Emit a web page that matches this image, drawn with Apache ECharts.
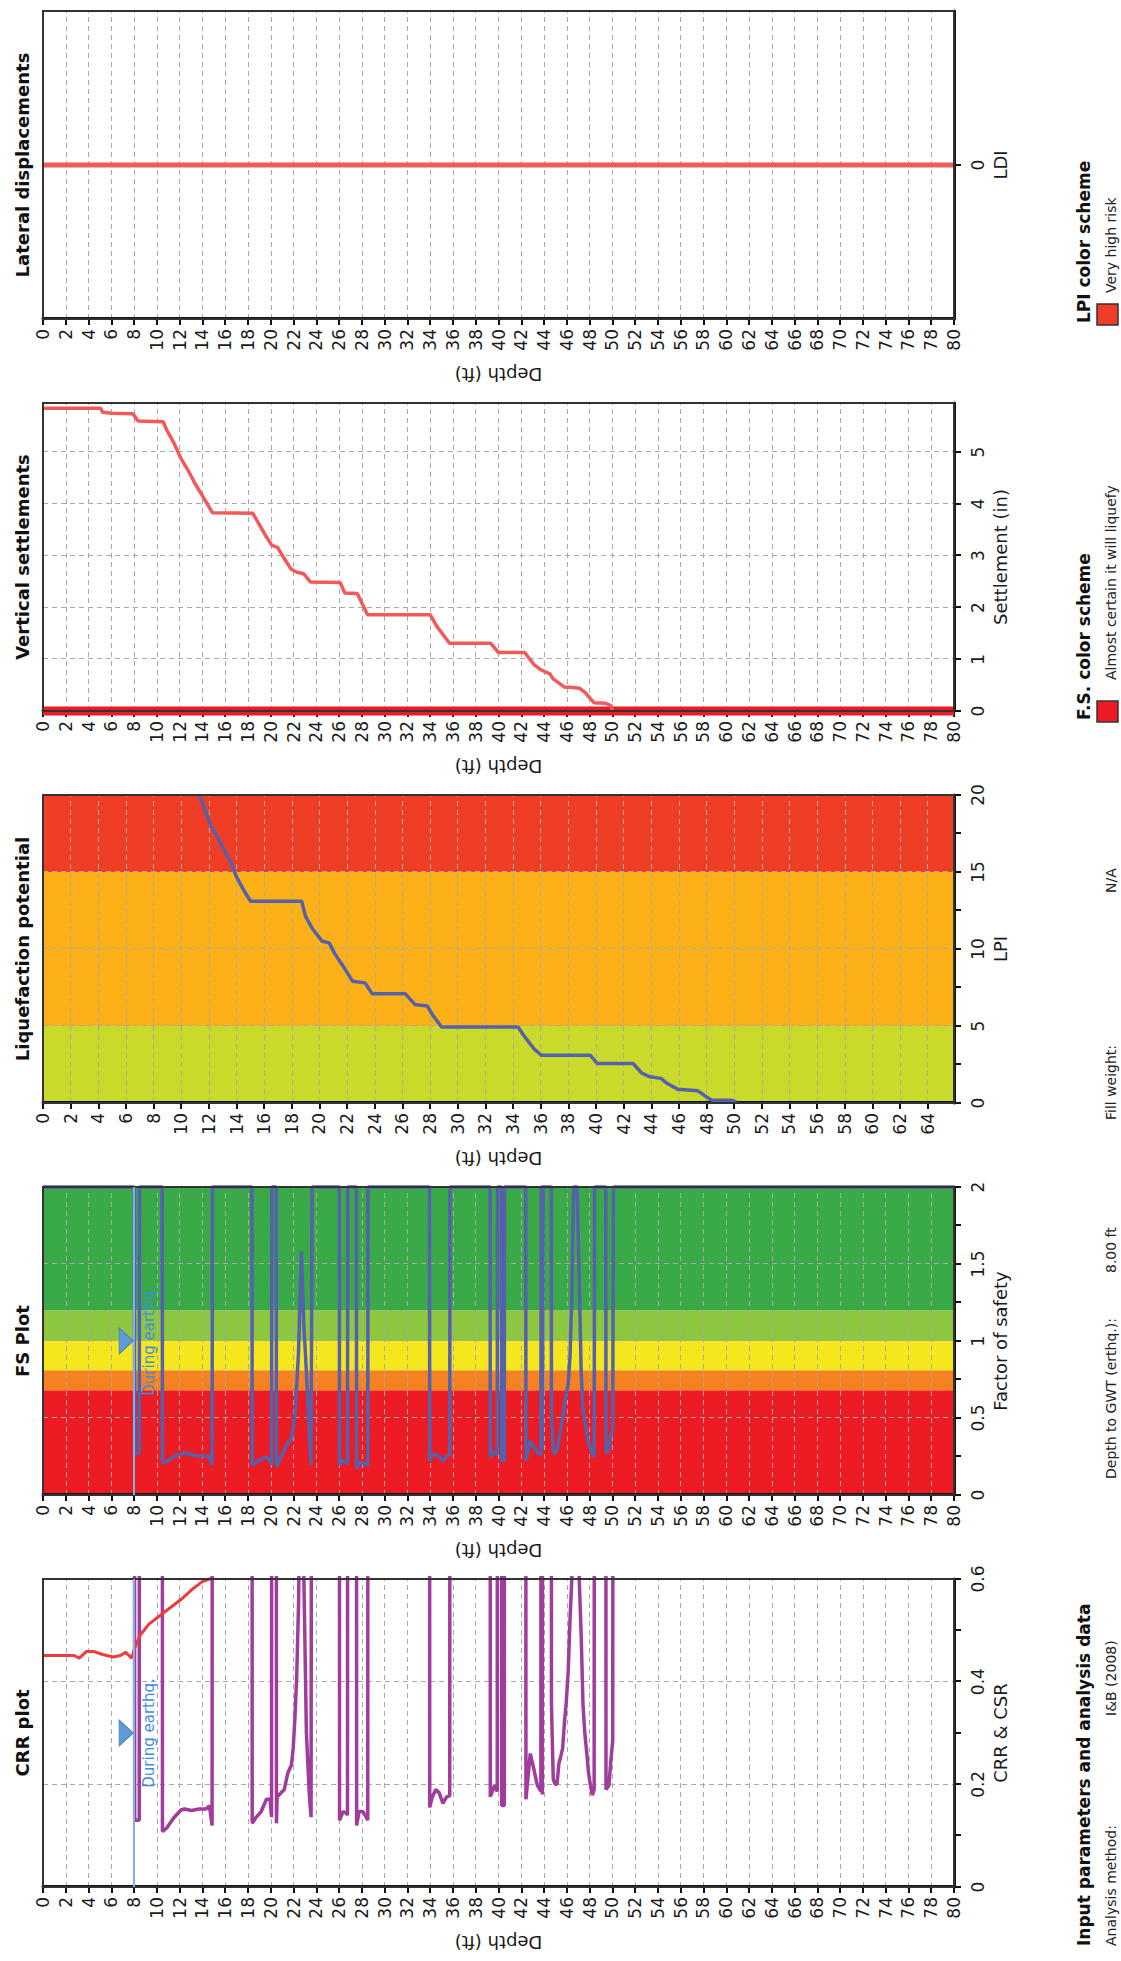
<!DOCTYPE html>
<html>
<head>
<meta charset="utf-8">
<script src="https://cdn.jsdelivr.net/npm/echarts@6/dist/echarts.min.js"></script>
<style>
html,body{margin:0;padding:0;width:1121px;height:1961px;overflow:hidden;background:#ffffff;}
#chart{position:absolute;left:0;top:0;width:1961px;height:1121px;transform-origin:0 0;transform:translate(0,1961px) rotate(-90deg);background:#fff;}
</style>
</head>
<body>
<div id="chart"></div>
<script>
// ---------------- DATA ----------------
const panelTitles = ['CRR plot', 'FS Plot', 'Liquefaction potential', 'Vertical settlements', 'Lateral displacements'];
const depthTicks = [0,2,4,6,8,10,12,14,16,18,20,22,24,26,28,30,32,34,36,38,40,42,44,46,48,50,52,54,56,58,60,62,64,66,68,70,72,74,76,78,80];
const lpiDepthTicks = [0,2,4,6,8,10,12,14,16,18,20,22,24,26,28,30,32,34,36,38,40,42,44,46,48,50,52,54,56,58,60,62,64];
const settleTicks = [0,1,2,3,4,5];
const ldiTicks = [0];

const gwtDepth = 8.0;            // Depth to GWT (earthq.), ft
const gwtMarkCRR = 0.3;          // marker position on CRR axis
const gwtMarkFS = 1.0;           // marker position on FS axis

// CRR (purple) - values of 2 are off-chart (non liquefiable)
const crrDepth = [
  8.00, 8.05, 8.45, 8.48,
  10.47, 10.49, 10.86, 11.49, 12.11, 12.43, 13.05, 13.68, 14.30, 14.62, 14.85, 14.88,
  18.35, 18.37, 18.69, 19.16, 19.62, 19.94, 20.07, 20.10,
  20.48, 20.50, 20.56, 20.88, 21.19, 21.50, 21.82, 21.97, 22.13, 22.28, 22.44, 22.69, 22.91, 23.13, 23.38, 23.54, 23.60, 23.63,
  26.02, 26.04, 26.35, 26.67, 26.74, 26.76,
  27.52, 27.54, 27.76, 28.08, 28.39, 28.52, 28.54,
  33.94, 33.96, 34.18, 34.49, 34.80, 35.12, 35.43, 35.72, 35.74,
  39.26, 39.28, 39.66, 39.89, 39.91,
  40.26, 40.28, 40.51, 40.53,
  42.39, 42.41, 42.79, 43.10, 43.41, 43.72, 43.75,
  43.82, 43.84, 43.90, 43.93,
  44.63, 44.65, 44.81, 44.98, 45.14, 45.30, 45.47, 45.63, 45.79, 45.95, 46.12, 46.28, 46.44, 46.60,
  46.90, 47.09, 47.26, 47.42, 47.58, 47.75, 47.91, 48.07, 48.24, 48.40, 48.44,
  49.42, 49.44, 49.70, 49.86, 50.03, 50.09, 80.00
];
const crrValue = [
  2, 0.130, 0.130, 2,
  2, 0.108, 0.115, 0.135, 0.150, 0.152, 0.149, 0.152, 0.152, 0.158, 0.120, 2,
  2, 0.124, 0.135, 0.147, 0.171, 0.171, 0.136, 2,
  2, 0.124, 0.175, 0.183, 0.190, 0.222, 0.238, 0.270, 0.333, 0.410, 0.550, 0.980, 0.600, 0.300, 0.183, 0.136, 0.136, 2,
  2, 0.130, 0.147, 0.143, 0.140, 2,
  2, 0.120, 0.147, 0.147, 0.136, 0.130, 2,
  2, 0.155, 0.175, 0.190, 0.183, 0.163, 0.175, 0.178, 2,
  2, 0.176, 0.198, 0.186, 2,
  2, 0.159, 0.159, 2,
  2, 0.171, 0.260, 0.230, 0.198, 0.187, 2,
  2, 0.180, 0.180, 2,
  2, 0.355, 0.210, 0.200, 0.200, 0.240, 0.255, 0.270, 0.320, 0.360, 0.420, 0.520, 0.600, 2,
  2, 0.600, 0.490, 0.355, 0.300, 0.261, 0.222, 0.198, 0.179, 0.190, 2,
  2, 0.190, 0.198, 0.245, 0.285, 2, 2
];

// CSR (red)
const csrDepth = [0, 2.72, 3.19, 3.82, 4.44, 5.23, 6.17, 6.79, 7.26, 7.79, 8.04, 8.51, 9.30, 10.23, 11.17, 12.11, 13.05, 13.99, 14.87];
const csrValue = [0.451, 0.451, 0.446, 0.459, 0.459, 0.453, 0.448, 0.451, 0.457, 0.446, 0.465, 0.490, 0.512, 0.528, 0.544, 0.560, 0.579, 0.595, 0.602];

// Factor of safety (2 = non liquefiable)
const fsDepth = [
  0, 8.02, 8.05, 8.45, 8.48,
  10.47, 10.49, 10.86, 11.49, 12.11, 12.43, 13.05, 13.68, 14.30, 14.62, 14.85, 14.88,
  18.35, 18.37, 18.69, 19.00, 19.62, 19.94, 20.07, 20.10,
  20.48, 20.50, 20.88, 21.19, 21.50, 21.82, 21.97, 22.13, 22.28, 22.44, 22.69, 22.91, 23.13, 23.38, 23.54, 23.60, 23.63,
  26.02, 26.04, 26.35, 26.67, 26.74, 26.76,
  27.52, 27.54, 27.76, 28.08, 28.39, 28.52, 28.54,
  33.94, 33.96, 34.18, 34.65, 35.12, 35.43, 35.72, 35.74,
  39.26, 39.28, 39.66, 39.89, 39.91,
  40.26, 40.28, 40.51, 40.53,
  42.39, 42.41, 42.79, 43.10, 43.41, 43.72, 43.75,
  43.82, 43.84, 43.90, 43.93,
  44.63, 44.65, 44.81, 44.98, 45.14, 45.30, 45.47, 45.63, 45.79, 45.95, 46.12, 46.28, 46.44, 46.60,
  46.90, 47.09, 47.26, 47.42, 47.58, 47.75, 47.91, 48.07, 48.24, 48.40, 48.44,
  49.42, 49.44, 49.70, 49.86, 50.03, 50.09, 80.00
];
const fsValue = [
  2, 2, 0.27, 0.27, 2,
  2, 0.21, 0.217, 0.25, 0.266, 0.274, 0.261, 0.253, 0.253, 0.248, 0.196, 2,
  2, 0.196, 0.21, 0.227, 0.248, 0.222, 0.196, 2,
  2, 0.183, 0.248, 0.287, 0.339, 0.365, 0.43, 0.535, 0.715, 0.927, 1.58, 1.1, 0.8, 0.405, 0.196, 0.196, 2,
  2, 0.196, 0.222, 0.209, 0.2, 2,
  2, 0.17, 0.209, 0.209, 0.196, 0.19, 2,
  2, 0.222, 0.261, 0.261, 0.222, 0.248, 0.261, 2,
  2, 0.248, 0.287, 0.261, 2,
  2, 0.222, 0.222, 2,
  2, 0.222, 0.352, 0.313, 0.274, 0.261, 2,
  2, 0.3, 0.3, 2,
  2, 0.5, 0.28, 0.27, 0.3, 0.36, 0.43, 0.5, 0.59, 0.66, 0.72, 0.9, 1.3, 2,
  2, 1.4, 0.8, 0.56, 0.48, 0.4, 0.34, 0.3, 0.27, 0.25, 2,
  2, 0.27, 0.3, 0.38, 0.42, 2, 2
];

// FS colour bands
const fsBandStart = [0, 0.68, 0.81, 1.0, 1.2];
const fsBandEnd   = [0.68, 0.81, 1.0, 1.2, 2.0];
const fsBandColor = ['#ED1C24', '#F58220', '#F4E71D', '#8DC63F', '#3AA948'];

// LPI
const lpiDepth = [11.33, 12.05, 12.83, 13.60, 13.99, 14.63, 15.02, 18.71, 19.00, 19.50, 20.20, 20.70, 21.10, 21.70, 22.40, 23.30, 23.80, 26.20, 26.90, 27.80, 28.20, 28.83, 34.37, 34.76, 35.54, 36.05, 39.60, 40.10, 42.70, 43.30, 43.90, 44.70, 45.10, 45.90, 47.35, 48.15, 48.40, 49.75, 50.20];
const lpiValue = [20.0, 18.2, 16.9, 15.6, 14.7, 13.65, 13.1, 13.1, 12.1, 11.3, 10.5, 10.4, 9.7, 8.9, 7.9, 7.8, 7.1, 7.1, 6.4, 6.3, 5.7, 4.93, 4.93, 4.4, 3.5, 3.1, 3.1, 2.56, 2.56, 1.95, 1.7, 1.6, 1.3, 0.9, 0.8, 0.3, 0.18, 0.18, 0.05];
const lpiBandStart = [0, 5, 15];
const lpiBandEnd   = [5, 15, 20];
const lpiBandColor = ['#C9DA2A', '#FBB117', '#EF3E25'];

// Vertical settlements (in)
const setDepth = [0, 5.07, 5.23, 6.00, 7.90, 8.36, 10.55, 10.86, 11.49, 12.11, 12.74, 13.36, 13.99, 14.62, 14.87, 18.43, 19.00, 19.60, 20.10, 20.60, 21.20, 21.80, 22.30, 22.90, 23.50, 26.10, 26.50, 27.60, 28.50, 34.00, 34.60, 35.70, 39.30, 40.00, 42.30, 43.10, 43.70, 44.50, 44.80, 45.80, 46.30, 47.10, 47.60, 48.10, 48.40, 49.40, 49.90, 50.00];
const setValue = [5.85, 5.85, 5.77, 5.75, 5.74, 5.60, 5.59, 5.43, 5.18, 4.88, 4.65, 4.39, 4.16, 3.93, 3.83, 3.82, 3.60, 3.37, 3.20, 3.16, 2.94, 2.74, 2.68, 2.65, 2.49, 2.48, 2.28, 2.27, 1.86, 1.86, 1.63, 1.31, 1.31, 1.13, 1.13, 0.90, 0.80, 0.72, 0.62, 0.46, 0.46, 0.44, 0.36, 0.23, 0.16, 0.15, 0.10, 0.00];
const setBaseDepth = [0, 80];
const setBaseValue = [0, 0];

// Lateral displacements
const ldiDepth = [0, 80];
const ldiValue = [0, 0];

// ---------------- CHART ----------------
const FONT = 'DejaVu Sans';
const TXT = '#1a1a1a';
const panelLeft = [74, 466, 858, 1250, 1642];
const PW = 308, PT = 43, PH = 911;
const depthMax = [80, 80, 65.9, 80, 80];

const pair = (xs, ys) => xs.map((x, i) => [x, ys[i]]);
const gridLine = {show: true, lineStyle: {color: '#a9a9a9', width: 1, type: [5, 4]}};
const tickStyle = {color: '#111', width: 2};

function depthAxis(i) {
  const ticks = depthMax[i] === 80 ? depthTicks : lpiDepthTicks;
  return {
    type: 'value', gridIndex: i, inverse: true, min: 0, max: depthMax[i], interval: 2,
    position: 'left', z: 2,
    name: 'Depth (ft)', nameLocation: 'middle', nameGap: 46, nameRotate: 90,
    nameTextStyle: {fontFamily: FONT, fontSize: 18, color: TXT},
    axisLine: {show: true, onZero: false, lineStyle: {color: '#111', width: 3}},
    axisTick: {show: true, length: 6, lineStyle: tickStyle, customValues: ticks},
    axisLabel: {margin: 10, fontFamily: FONT, fontSize: 17, color: TXT, hideOverlap: false, customValues: ticks,
      formatter: v => (ticks.indexOf(v) >= 0 ? String(v) : '')},
    splitLine: gridLine
  };
}
function valAxis(i, o) {
  return Object.assign({
    type: 'value', gridIndex: i, position: 'bottom', z: 2,
    nameLocation: 'middle', nameGap: 37,
    nameTextStyle: {fontFamily: FONT, fontSize: 18, color: TXT},
    axisLine: {show: true, onZero: false, lineStyle: {color: '#111', width: 3}},
    axisTick: {show: true, length: 7, lineStyle: tickStyle},
    axisLabel: {margin: 15, fontFamily: FONT, fontSize: 17, color: TXT, hideOverlap: false},
    splitLine: gridLine
  }, o);
}
const minor = {show: true, splitNumber: 2, length: 7, lineStyle: tickStyle};

function bandSeries(i, starts, ends, colors) {
  const dmax = depthMax[i];
  return {
    type: 'custom', xAxisIndex: i, yAxisIndex: i, z: 1, silent: true, clip: true,
    encode: {x: [0, 1]},
    data: starts.map((s, k) => ({value: [s, ends[k]], itemStyle: {color: colors[k]}})),
    renderItem: (params, api) => {
      const p0 = api.coord([api.value(0), 0]);
      const p1 = api.coord([api.value(1), dmax]);
      return {type: 'rect', shape: {x: p0[0], y: p0[1], width: p1[0] - p0[0], height: p1[1] - p0[1]},
        style: {fill: api.visual('color')}};
    }
  };
}
const gwtLine = {
  silent: true, symbol: ['none', 'none'], label: {show: false},
  lineStyle: {color: '#7fb2e5', width: 2, type: 'solid'},
  data: [{yAxis: gwtDepth}]
};
function gwtTriangle(i, v) {
  return {type: 'scatter', xAxisIndex: i, yAxisIndex: i, z: 6, silent: true,
    data: [[v, gwtDepth - 0.7]], symbol: 'triangle', symbolRotate: 180, symbolSize: [26, 14],
    itemStyle: {color: '#5d9ad6', borderColor: '#3f7fc0', borderWidth: 1, opacity: 1}};
}
function gwtText(i, v) {
  return {type: 'scatter', xAxisIndex: i, yAxisIndex: i, z: 6, silent: true,
    data: [[v, gwtDepth + 1.3]], symbol: 'circle', symbolSize: 2,
    itemStyle: {color: 'rgba(255,255,255,0)'},
    label: {show: true, position: 'inside', formatter: 'During earthq.', color: '#3f8ddb',
      fontFamily: FONT, fontSize: 15, opacity: 1}};
}

const option = {
  animation: false,
  backgroundColor: '#ffffff',
  textStyle: {fontFamily: FONT},
  grid: panelLeft.map(l => ({left: l, top: PT, width: PW, height: PH, show: true,
    borderColor: '#333', borderWidth: 2, backgroundColor: 'transparent', z: 4,
    containLabel: false, outerBoundsMode: 'none'})),
  xAxis: [
    valAxis(0, {name: 'CRR & CSR', min: 0, max: 0.6, interval: 0.2, minorTick: minor}),
    valAxis(1, {name: 'Factor of safety', min: 0, max: 2, interval: 0.5, minorTick: minor}),
    valAxis(2, {name: 'LPI', min: 0, max: 20, interval: 5, minorTick: minor}),
    valAxis(3, {name: 'Settlement (in)', min: 0, max: 5.95, interval: 1,
      axisTick: {show: true, length: 7, lineStyle: tickStyle, customValues: settleTicks},
      axisLabel: {margin: 15, fontFamily: FONT, fontSize: 17, color: TXT, customValues: settleTicks,
        formatter: v => (settleTicks.indexOf(v) >= 0 ? String(v) : '')}}),
    valAxis(4, {name: 'LDI', min: -1, max: 1, interval: 1,
      axisTick: {show: true, length: 7, lineStyle: tickStyle, customValues: ldiTicks},
      axisLabel: {margin: 15, fontFamily: FONT, fontSize: 17, color: TXT, customValues: ldiTicks,
        formatter: v => (ldiTicks.indexOf(v) >= 0 ? String(v) : '')},
      splitLine: {show: false}})
  ],
  yAxis: [0, 1, 2, 3, 4].map(depthAxis),
  series: [
    // CRR plot
    {type: 'line', name: 'CRR', xAxisIndex: 0, yAxisIndex: 0, z: 3, clip: true,
      data: pair(crrValue, crrDepth), symbol: 'none', lineStyle: {color: '#a03c9c', width: 3.5},
      markLine: gwtLine},
    {type: 'line', name: 'CSR', xAxisIndex: 0, yAxisIndex: 0, z: 3, clip: true,
      data: pair(csrValue, csrDepth), symbol: 'none', lineStyle: {color: '#ee3b3b', width: 3}},
    gwtTriangle(0, gwtMarkCRR), gwtText(0, gwtMarkCRR),
    // FS plot
    bandSeries(1, fsBandStart, fsBandEnd, fsBandColor),
    {type: 'line', name: 'FS', xAxisIndex: 1, yAxisIndex: 1, z: 3, clip: false,
      data: pair(fsValue, fsDepth), symbol: 'none', lineStyle: {color: '#5661ac', width: 3.5},
      markLine: gwtLine},
    gwtTriangle(1, gwtMarkFS), gwtText(1, gwtMarkFS),
    // LPI
    bandSeries(2, lpiBandStart, lpiBandEnd, lpiBandColor),
    {type: 'line', name: 'LPI', xAxisIndex: 2, yAxisIndex: 2, z: 3, clip: true,
      data: pair(lpiValue, lpiDepth), symbol: 'none', lineStyle: {color: '#5661ac', width: 3.5}},
    // Settlements
    {type: 'line', name: 'base', xAxisIndex: 3, yAxisIndex: 3, z: 3, clip: false,
      data: pair(setBaseValue, setBaseDepth), symbol: 'none', lineStyle: {color: '#ec1c24', width: 9}},
    {type: 'line', name: 'Settlement', xAxisIndex: 3, yAxisIndex: 3, z: 3, clip: true,
      data: pair(setValue, setDepth), symbol: 'none', lineStyle: {color: '#f05a5a', width: 3.5}},
    // Lateral
    {type: 'line', name: 'LDI', xAxisIndex: 4, yAxisIndex: 4, z: 3, clip: false,
      data: pair(ldiValue, ldiDepth), symbol: 'none', lineStyle: {color: '#f05a5a', width: 5}}
  ],
  graphic: [].concat(
    panelTitles.map((t, i) => ({type: 'text', x: panelLeft[i] + PW / 2, y: 22, z: 10,
      style: {text: t, font: 'bold 18px "DejaVu Sans"', fill: '#111', align: 'center', verticalAlign: 'middle'}})),
    [
      {type: 'text', x: 15, y: 1084, style: {text: 'Input parameters and analysis data', font: 'bold 17px "DejaVu Sans"', fill: '#111', verticalAlign: 'middle'}},
      {type: 'text', x: 15, y: 1118, style: {text: 'Analysis method:', font: '14px "DejaVu Sans"', fill: '#222', verticalAlign: 'bottom'}},
      {type: 'text', x: 245, y: 1118, style: {text: 'I&B (2008)', font: '14px "DejaVu Sans"', fill: '#222', verticalAlign: 'bottom'}},
      {type: 'text', x: 482, y: 1118, style: {text: 'Depth to GWT (erthq.):', font: '14px "DejaVu Sans"', fill: '#222', verticalAlign: 'bottom'}},
      {type: 'text', x: 688, y: 1118, style: {text: '8.00 ft', font: '14px "DejaVu Sans"', fill: '#222', verticalAlign: 'bottom'}},
      {type: 'text', x: 841, y: 1118, style: {text: 'Fill weight:', font: '14px "DejaVu Sans"', fill: '#222', verticalAlign: 'bottom'}},
      {type: 'text', x: 1068, y: 1118, style: {text: 'N/A', font: '14px "DejaVu Sans"', fill: '#222', verticalAlign: 'bottom'}},
      {type: 'text', x: 1241, y: 1084, style: {text: 'F.S. color scheme', font: 'bold 17px "DejaVu Sans"', fill: '#111', verticalAlign: 'middle'}},
      {type: 'rect', shape: {x: 1239, y: 1097, width: 21, height: 21}, style: {fill: '#ED1C24', stroke: '#333', lineWidth: 1.5}},
      {type: 'text', x: 1281, y: 1118, style: {text: 'Almost certain it will liquefy', font: '14px "DejaVu Sans"', fill: '#222', verticalAlign: 'bottom'}},
      {type: 'text', x: 1638, y: 1084, style: {text: 'LPI color scheme', font: 'bold 17px "DejaVu Sans"', fill: '#111', verticalAlign: 'middle'}},
      {type: 'rect', shape: {x: 1636, y: 1097, width: 21, height: 21}, style: {fill: '#EF3E25', stroke: '#333', lineWidth: 1.5}},
      {type: 'text', x: 1668, y: 1118, style: {text: 'Very high risk', font: '14px "DejaVu Sans"', fill: '#222', verticalAlign: 'bottom'}}
    ]
  )
};

const chart = echarts.init(document.getElementById('chart'), null, {renderer: 'svg', width: 1961, height: 1121});
chart.setOption(option);
</script>
</body>
</html>
